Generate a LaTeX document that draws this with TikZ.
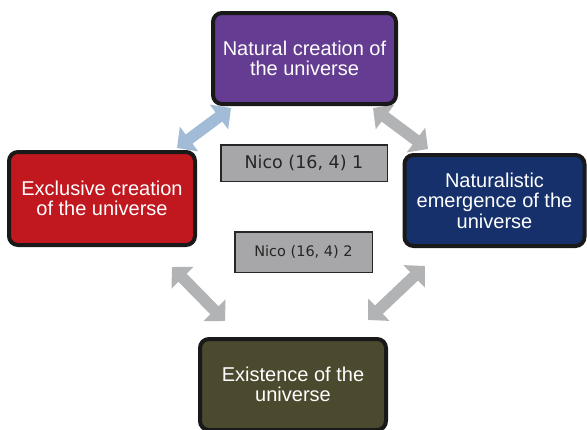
\documentclass[tikz,border=0pt]{standalone}
\usepackage{fontspec}
\setmainfont{Liberation Sans}
\newfontfamily\labfont{DejaVu Sans}
\usetikzlibrary{arrows.meta}
\definecolor{cpurple}{HTML}{643C91}
\definecolor{cred}{HTML}{C1181F}
\definecolor{cnavy}{HTML}{15306B}
\definecolor{colive}{HTML}{4B492E}
\definecolor{cgrey}{HTML}{A7A7A9}
\definecolor{cblue}{HTML}{A2BBD6}
\definecolor{carrow}{HTML}{B2B3B5}
\definecolor{cborder}{HTML}{262626}
\begin{document}
\begin{tikzpicture}[x=1pt,y=-1pt,
  mainbox/.style={draw=black!90, line width=4pt, rounded corners=9pt, text=white, align=center,
    font=\fontsize{20}{20.5}\selectfont, inner sep=0pt},
  labelbox/.style={draw=cborder, line width=1.5pt, fill=cgrey, text=black!85, inner sep=0pt},
  dblarrow/.style={line width=11.5pt, {Triangle[width=30pt,length=15pt]}-{Triangle[width=30pt,length=15pt]}}
]
\useasboundingbox (0,0) rectangle (587,429);
% arrow end points
\coordinate (a1s) at (231,108); \coordinate (a1e) at (177,148);
\coordinate (a2s) at (373,108); \coordinate (a2e) at (428,149);
\coordinate (a3s) at (172,267); \coordinate (a3e) at (225,321);
\coordinate (a4s) at (425,266); \coordinate (a4e) at (368,320);
\draw[dblarrow, draw=cblue, fill=cblue] (a1s) -- (a1e);
\draw[dblarrow, draw=carrow, fill=carrow] (a2s) -- (a2e);
\draw[dblarrow, draw=carrow, fill=carrow] (a3s) -- (a3e);
\draw[dblarrow, draw=carrow, fill=carrow] (a4s) -- (a4e);
% boxes
\node[mainbox, fill=cpurple, minimum width=183pt, minimum height=91pt] (top) at (304.5,58.5)
  {Natural creation of\\the universe};
\node[mainbox, fill=cred, minimum width=186pt, minimum height=93pt] (left) at (102,198.5)
  {Exclusive creation\\of the universe};
\node[mainbox, fill=cnavy, minimum width=180pt, minimum height=91pt] (right) at (494.5,200.5)
  {Naturalistic\\emergence of the\\universe};
\node[mainbox, fill=colive, minimum width=186pt, minimum height=91pt] (bottom) at (293,384.5)
  {Existence of the\\universe};
% labels
\node[labelbox, minimum width=166.5pt, minimum height=36.5pt, font=\labfont\fontsize{17.5}{20}\selectfont] (lab1) at (304,163) {Nico (16, 4) 1};
\node[labelbox, minimum width=137.5pt, minimum height=40.5pt, font=\labfont\fontsize{14.5}{17}\selectfont] (lab2) at (303.5,252) {Nico (16, 4) 2};
\end{tikzpicture}
\end{document}
